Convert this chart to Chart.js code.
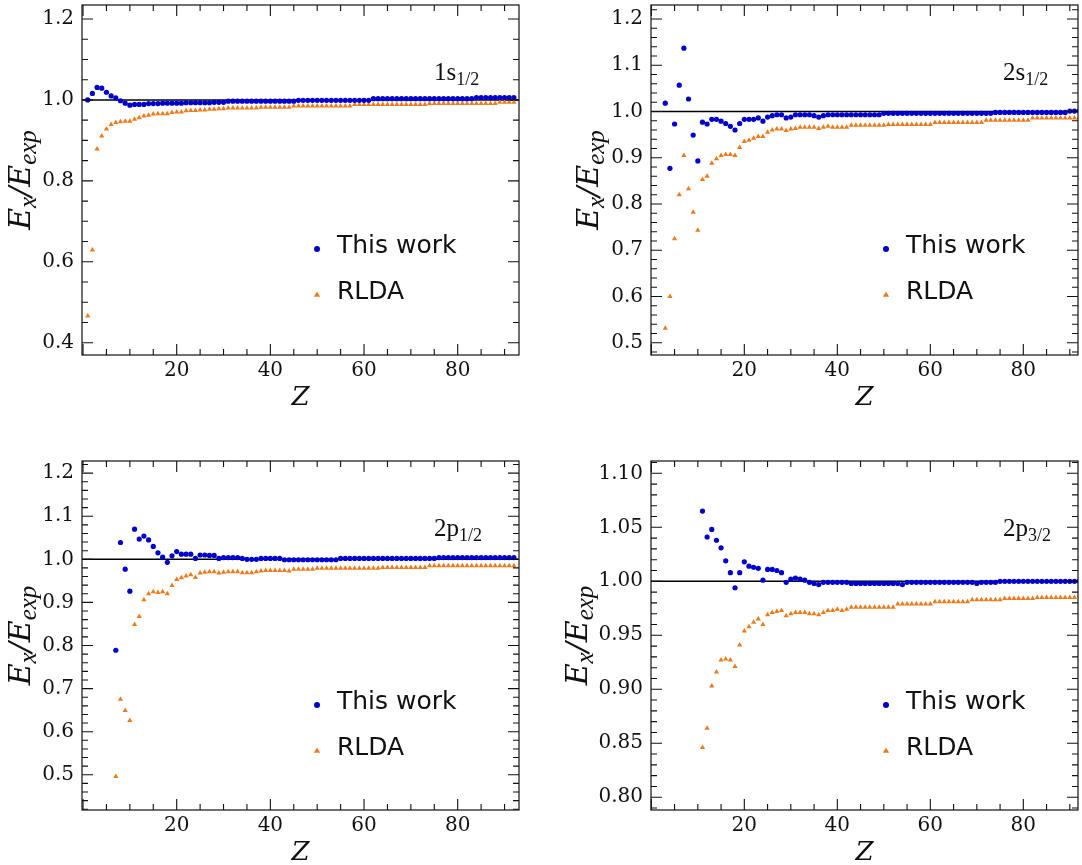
<!DOCTYPE html>
<html>
<head>
<meta charset="utf-8">
<script src="https://cdn.jsdelivr.net/npm/chart.js@4.4.1/dist/chart.umd.min.js"></script>
<style>
  html, body { margin: 0; padding: 0; background: #fff; overflow: hidden; }
  body { width: 1082px; height: 865px; position: relative; }
  canvas { position: absolute; }
</style>
</head>
<body>
<canvas id="panel1s" width="541" height="432" style="left:0;top:0"></canvas>
<canvas id="panel2s" width="522" height="432" style="left:560px;top:0"></canvas>
<canvas id="panel2p1" width="541" height="425" style="left:0;top:440px"></canvas>
<canvas id="panel2p3" width="522" height="425" style="left:560px;top:440px"></canvas>
<script>
// first atomic number plotted for each level (all run up to Z = 92)
const zFirst1s = 1;
const zFirst2s = 3;
const zFirst2p1 = 7;
const zFirst2p3 = 11;
const zLast = 92;

// E_x / E_exp, 1s_1/2
const work1s = [
  1.000, 1.016, 1.031, 1.029, 1.019, 1.010, 1.005, 0.998, 0.992, 0.987,
  0.989, 0.989, 0.989, 0.991, 0.991, 0.991, 0.992, 0.992, 0.992, 0.992,
  0.992, 0.993, 0.993, 0.993, 0.993, 0.993, 0.993, 0.994, 0.994, 0.994,
  0.997, 0.997, 0.997, 0.997, 0.997, 0.997, 0.997, 0.997, 0.997, 0.997,
  0.997, 0.997, 0.997, 0.997, 0.997, 0.999, 0.999, 0.999, 0.999, 0.999,
  0.999, 0.999, 0.999, 0.999, 0.999, 0.999, 0.999, 0.999, 0.999, 0.999,
  0.999, 1.003, 1.003, 1.003, 1.003, 1.003, 1.003, 1.003, 1.003, 1.003,
  1.003, 1.003, 1.003, 1.003, 1.003, 1.003, 1.003, 1.003, 1.003, 1.003,
  1.003, 1.003, 1.003, 1.006, 1.006, 1.006, 1.006, 1.006, 1.006, 1.006,
  1.006, 1.006
];
const rlda1s = [
  0.466, 0.629, 0.879, 0.911, 0.928, 0.939, 0.944, 0.946, 0.947, 0.947,
  0.952, 0.956, 0.960, 0.962, 0.965, 0.966, 0.966, 0.966, 0.969, 0.970,
  0.970, 0.973, 0.974, 0.974, 0.975, 0.975, 0.977, 0.977, 0.978, 0.978,
  0.980, 0.980, 0.980, 0.980, 0.980, 0.980, 0.980, 0.982, 0.982, 0.982,
  0.982, 0.982, 0.982, 0.982, 0.985, 0.985, 0.985, 0.985, 0.985, 0.985,
  0.985, 0.985, 0.985, 0.985, 0.985, 0.985, 0.985, 0.989, 0.989, 0.989,
  0.989, 0.989, 0.989, 0.989, 0.989, 0.989, 0.989, 0.989, 0.989, 0.989,
  0.989, 0.989, 0.989, 0.991, 0.991, 0.991, 0.991, 0.991, 0.991, 0.991,
  0.991, 0.991, 0.991, 0.991, 0.991, 0.991, 0.991, 0.991, 0.994, 0.994,
  0.994, 0.994
];

// 2s_1/2
const work2s = [
  1.018, 0.877, 0.973, 1.057, 1.137, 1.027, 0.949, 0.893, 0.977, 0.973,
  0.983, 0.983, 0.979, 0.974, 0.968, 0.960, 0.974, 0.983, 0.983, 0.983,
  0.986, 0.979, 0.988, 0.991, 0.993, 0.993, 0.986, 0.988, 0.993, 0.993,
  0.993, 0.993, 0.991, 0.988, 0.991, 0.993, 0.993, 0.993, 0.993, 0.993,
  0.993, 0.993, 0.993, 0.993, 0.993, 0.993, 0.993, 0.996, 0.996, 0.996,
  0.996, 0.996, 0.996, 0.996, 0.996, 0.996, 0.996, 0.996, 0.996, 0.996,
  0.996, 0.996, 0.996, 0.996, 0.996, 0.996, 0.996, 0.996, 0.996, 0.996,
  0.996, 0.998, 0.998, 0.998, 0.998, 0.998, 0.998, 0.998, 0.998, 0.998,
  0.998, 0.998, 0.998, 0.998, 0.998, 0.998, 0.998, 1.001, 1.001, 1.001
];
const rlda2s = [
  0.531, 0.600, 0.725, 0.820, 0.905, 0.833, 0.782, 0.743, 0.853, 0.860,
  0.888, 0.898, 0.905, 0.907, 0.907, 0.905, 0.922, 0.935, 0.938, 0.942,
  0.946, 0.946, 0.955, 0.960, 0.962, 0.962, 0.959, 0.962, 0.963, 0.966,
  0.966, 0.966, 0.966, 0.963, 0.966, 0.968, 0.966, 0.966, 0.966, 0.966,
  0.970, 0.970, 0.970, 0.970, 0.970, 0.970, 0.970, 0.970, 0.972, 0.972,
  0.972, 0.972, 0.972, 0.972, 0.972, 0.972, 0.972, 0.972, 0.976, 0.976,
  0.976, 0.976, 0.976, 0.976, 0.976, 0.976, 0.976, 0.976, 0.976, 0.981,
  0.981, 0.981, 0.981, 0.981, 0.981, 0.981, 0.981, 0.981, 0.981, 0.986,
  0.986, 0.986, 0.986, 0.986, 0.986, 0.986, 0.986, 0.986, 0.986, 0.986
];

// 2p_1/2
const work2p1 = [
  0.789, 1.039, 0.977, 0.926, 1.070, 1.047, 1.054, 1.045, 1.030, 1.015,
  1.005, 0.993, 1.008, 1.018, 1.012, 1.012, 1.012, 1.002, 1.010, 1.010,
  1.009, 1.009, 1.002, 1.004, 1.004, 1.004, 1.004, 1.002, 1.000, 1.000,
  1.000, 1.002, 1.002, 1.002, 1.002, 1.002, 0.999, 0.999, 0.999, 0.999,
  0.999, 0.999, 0.999, 0.999, 0.999, 0.999, 0.999, 0.999, 1.002, 1.002,
  1.002, 1.002, 1.002, 1.002, 1.002, 1.002, 1.002, 1.002, 1.002, 1.002,
  1.002, 1.002, 1.002, 1.002, 1.002, 1.002, 1.002, 1.002, 1.002, 1.004,
  1.004, 1.004, 1.004, 1.004, 1.004, 1.004, 1.004, 1.004, 1.004, 1.004,
  1.004, 1.004, 1.004, 1.004, 1.004, 1.004
];
const rlda2p1 = [
  0.496, 0.675, 0.649, 0.626, 0.849, 0.867, 0.906, 0.920, 0.925, 0.923,
  0.925, 0.920, 0.939, 0.953, 0.957, 0.961, 0.964, 0.958, 0.968, 0.970,
  0.971, 0.971, 0.968, 0.970, 0.971, 0.971, 0.971, 0.969, 0.969, 0.969,
  0.971, 0.973, 0.974, 0.974, 0.974, 0.974, 0.974, 0.973, 0.977, 0.977,
  0.977, 0.977, 0.977, 0.979, 0.979, 0.979, 0.979, 0.979, 0.979, 0.979,
  0.979, 0.979, 0.979, 0.979, 0.979, 0.979, 0.979, 0.981, 0.981, 0.981,
  0.981, 0.981, 0.981, 0.981, 0.981, 0.981, 0.981, 0.985, 0.985, 0.985,
  0.985, 0.985, 0.985, 0.985, 0.985, 0.985, 0.985, 0.985, 0.985, 0.985,
  0.985, 0.985, 0.985, 0.985, 0.985, 0.985
];

// 2p_3/2
const work2p3 = [
  1.065, 1.041, 1.048, 1.038, 1.031, 1.019, 1.008, 0.994, 1.008, 1.018,
  1.014, 1.013, 1.012, 1.001, 1.011, 1.011, 1.010, 1.008, 0.999, 1.002,
  1.003, 1.002, 1.001, 0.999, 0.998, 0.997, 0.999, 0.999, 0.999, 0.999,
  0.999, 0.999, 0.998, 0.998, 0.998, 0.998, 0.998, 0.998, 0.998, 0.998,
  0.998, 0.998, 0.998, 0.997, 0.999, 0.999, 0.999, 0.999, 0.999, 0.999,
  0.999, 0.999, 0.999, 0.999, 0.999, 0.999, 0.999, 0.999, 0.999, 0.998,
  0.999, 0.999, 0.999, 0.999, 1.000, 1.000, 1.000, 1.000, 1.000, 1.000,
  1.000, 1.000, 1.000, 1.000, 1.000, 1.000, 1.000, 1.000, 1.000, 1.000,
  1.000, 1.000
];
const rlda2p3 = [
  0.846, 0.864, 0.903, 0.916, 0.927, 0.928, 0.927, 0.921, 0.941, 0.954,
  0.958, 0.962, 0.965, 0.960, 0.969, 0.971, 0.972, 0.973, 0.968, 0.970,
  0.971, 0.971, 0.971, 0.970, 0.970, 0.969, 0.971, 0.973, 0.973, 0.974,
  0.973, 0.974, 0.976, 0.976, 0.976, 0.976, 0.976, 0.976, 0.976, 0.976,
  0.976, 0.976, 0.979, 0.979, 0.979, 0.979, 0.979, 0.979, 0.979, 0.979,
  0.981, 0.981, 0.981, 0.981, 0.981, 0.981, 0.981, 0.981, 0.983, 0.983,
  0.983, 0.983, 0.983, 0.983, 0.983, 0.984, 0.984, 0.984, 0.984, 0.984,
  0.984, 0.984, 0.985, 0.985, 0.985, 0.985, 0.985, 0.985, 0.985, 0.985,
  0.985, 0.987
];

// tick labels
const zTicks = [20, 40, 60, 80];
const zTickLabels = ['20', '40', '60', '80'];
const yTicks1s = [0.4, 0.6, 0.8, 1.0, 1.2];
const yLabels1s = ['0.4', '0.6', '0.8', '1.0', '1.2'];
const yTicks2s = [0.5, 0.6, 0.7, 0.8, 0.9, 1.0, 1.1, 1.2];
const yLabels2s = ['0.5', '0.6', '0.7', '0.8', '0.9', '1.0', '1.1', '1.2'];
const yTicks2p3 = [0.80, 0.85, 0.90, 0.95, 1.00, 1.05, 1.10];
const yLabels2p3 = ['0.80', '0.85', '0.90', '0.95', '1.00', '1.05', '1.10'];

const BLUE = '#0000cd';
const ORANGE = '#f07a1a';
const TICK_FONT = { family: '"DejaVu Serif", serif', size: 20 };

function zRange(first, last) {
  const out = [];
  for (let z = first; z <= last; z++) out.push(z);
  return out;
}

function toPoints(zs, vals) {
  return vals.map((v, i) => ({ x: zs[i], y: v }));
}

function drawRich(ctx, parts, x, y, align) {
  let w = 0;
  parts.forEach((p) => { ctx.font = p.font; p.w = ctx.measureText(p.text).width; w += p.w; });
  let cx = align === 'center' ? x - w / 2 : x;
  parts.forEach((p) => {
    ctx.font = p.font;
    ctx.fillText(p.text, cx, y + (p.dy || 0));
    cx += p.w;
  });
}

function eachTick(min, max, step, major, fn) {
  for (let k = Math.ceil(min / step - 1e-9); k * step <= max + 1e-9; k++) {
    const v = k * step;
    const r = v / major;
    fn(v, Math.abs(r - Math.round(r)) < 1e-6);
  }
}

// frame, inward ticks on all sides, reference line, legend, level label, axis titles
const panelDecor = {
  id: 'panelDecor',
  beforeDatasetsDraw(chart, args, o) {
    const { ctx, chartArea: a } = chart;
    const py = chart.scales.y.getPixelForValue(o.refValue);
    ctx.save();
    ctx.strokeStyle = '#000';
    ctx.lineWidth = 1.5;
    ctx.beginPath();
    ctx.moveTo(a.left, py);
    ctx.lineTo(a.right, py);
    ctx.stroke();
    ctx.restore();
  },
  afterDraw(chart, args, o) {
    const { ctx, chartArea: a, scales: { x, y } } = chart;
    ctx.save();
    ctx.strokeStyle = '#111';
    ctx.lineWidth = 1.2;
    ctx.strokeRect(a.left, a.top, a.right - a.left, a.bottom - a.top);

    ctx.lineWidth = 1.1;
    ctx.beginPath();
    eachTick(x.min, x.max, o.xMinor, o.xMajor, (v, isMajor) => {
      const px = x.getPixelForValue(v);
      const len = isMajor ? 11 : 6;
      ctx.moveTo(px, a.bottom); ctx.lineTo(px, a.bottom - len);
      ctx.moveTo(px, a.top); ctx.lineTo(px, a.top + len);
    });
    eachTick(y.min, y.max, o.yMinor, o.yMajor, (v, isMajor) => {
      const py = y.getPixelForValue(v);
      const len = isMajor ? 11 : 6;
      ctx.moveTo(a.left, py); ctx.lineTo(a.left + len, py);
      ctx.moveTo(a.right, py); ctx.lineTo(a.right - len, py);
    });
    ctx.stroke();

    // legend
    ctx.fillStyle = BLUE;
    ctx.beginPath();
    ctx.arc(a.left + 235, a.top + 244, 3, 0, Math.PI * 2);
    ctx.fill();
    ctx.fillStyle = ORANGE;
    const tx = a.left + 235, ty = a.top + 290, tr = 3.6;
    ctx.beginPath();
    ctx.moveTo(tx, ty - tr);
    ctx.lineTo(tx + tr * 0.866, ty + tr * 0.5);
    ctx.lineTo(tx - tr * 0.866, ty + tr * 0.5);
    ctx.closePath();
    ctx.fill();
    ctx.fillStyle = '#111';
    ctx.textBaseline = 'alphabetic';
    ctx.textAlign = 'left';
    ctx.font = '25px "DejaVu Sans", sans-serif';
    ctx.fillText('This work', a.left + 255, a.top + 248);
    ctx.fillText('RLDA', a.left + 255, a.top + 294);

    // level label
    drawRich(ctx, [
      { text: o.level, font: '25px "Liberation Serif", serif' },
      { text: o.levelSub, font: '18px "Liberation Serif", serif', dy: 4.5 },
    ], a.left + 352, a.top + 75, 'left');

    // x title
    drawRich(ctx, [
      { text: 'Z', font: 'italic 26px "DejaVu Serif", serif' },
    ], (a.left + a.right) / 2, a.bottom + 50, 'center');

    // y title
    ctx.translate(a.left - o.yTitleGap, (a.top + a.bottom) / 2);
    ctx.rotate(-Math.PI / 2);
    const big = 'italic 30px "DejaVu Serif", serif';
    const sub = 'italic 25px "Liberation Serif", serif';
    drawRich(ctx, [
      { text: 'E', font: big },
      { text: 'x', font: sub, dy: 6 },
      { text: '/', font: big },
      { text: 'E', font: big },
      { text: 'exp', font: sub, dy: 6 },
    ], 0, 0, 'center');
    ctx.restore();
  },
};

function makePanel(id, p) {
  return new Chart(document.getElementById(id), {
    type: 'scatter',
    data: {
      datasets: [
        {
          label: 'This work',
          data: toPoints(p.z, p.work),
          pointStyle: 'circle',
          pointRadius: 2.6,
          backgroundColor: BLUE,
          borderWidth: 0,
        },
        {
          label: 'RLDA',
          data: toPoints(p.z, p.rlda),
          pointStyle: 'triangle',
          pointRadius: 3,
          backgroundColor: ORANGE,
          borderWidth: 0,
        },
      ],
    },
    options: {
      responsive: false,
      animation: false,
      events: [],
      layout: { padding: { top: p.padTop, right: p.padRight, left: 0, bottom: 0 } },
      plugins: {
        legend: { display: false },
        tooltip: { enabled: false },
        panelDecor: {
          refValue: 1.0,
          xMajor: 20, xMinor: 5,
          yMajor: p.yMajor, yMinor: p.yMinor,
          level: p.level, levelSub: p.levelSub,
          yTitleGap: p.yTitleGap,
        },
      },
      scales: {
        x: {
          type: 'linear',
          min: p.xMin,
          max: p.xMax,
          grid: { display: false, drawTicks: false },
          border: { display: false },
          afterFit: (s) => {
            s.height = p.xAxisHeight;
            s.paddingLeft = 0;
            s.paddingRight = 0;
          },
          afterBuildTicks: (s) => { s.ticks = zTicks.map((v) => ({ value: v })); },
          ticks: {
            callback: (v, i) => zTickLabels[i],
            font: TICK_FONT,
            color: '#111',
            padding: 4,
            maxRotation: 0,
            autoSkip: false,
          },
        },
        y: {
          type: 'linear',
          min: p.yMin,
          max: p.yMax,
          grid: { display: false, drawTicks: false },
          border: { display: false },
          afterFit: (s) => {
            s.width = p.yAxisWidth;
            s.paddingTop = 0;
            s.paddingBottom = 0;
          },
          afterBuildTicks: (s) => { s.ticks = p.yTicks.map((v) => ({ value: v })); },
          ticks: {
            callback: (v, i) => p.yLabels[i],
            font: TICK_FONT,
            color: '#111',
            padding: 8,
            autoSkip: false,
          },
        },
      },
    },
    plugins: [panelDecor],
  });
}

makePanel('panel1s', {
  z: zRange(zFirst1s, zLast), work: work1s, rlda: rlda1s,
  level: '1s', levelSub: '1/2',
  xMin: -0.22, xMax: 93.09, yMin: 0.3696, yMax: 1.2346,
  yTicks: yTicks1s, yLabels: yLabels1s, yMajor: 0.2, yMinor: 0.05,
  padTop: 5, padRight: 22, yAxisWidth: 82, xAxisHeight: 77, yTitleGap: 52,
});

makePanel('panel2s', {
  z: zRange(zFirst2s, zLast), work: work2s, rlda: rlda2s,
  level: '2s', levelSub: '1/2',
  xMin: -0.07, xMax: 91.76, yMin: 0.4734, yMax: 1.2303,
  yTicks: yTicks2s, yLabels: yLabels2s, yMajor: 0.1, yMinor: 0.02,
  padTop: 5, padRight: 1, yAxisWidth: 91, xAxisHeight: 77, yTitleGap: 53,
});

makePanel('panel2p1', {
  z: zRange(zFirst2p1, zLast), work: work2p1, rlda: rlda2p1,
  level: '2p', levelSub: '1/2',
  xMin: -0.22, xMax: 93.09, yMin: 0.4183, yMax: 1.2281,
  yTicks: yTicks2s, yLabels: yLabels2s, yMajor: 0.1, yMinor: 0.02,
  padTop: 21, padRight: 22, yAxisWidth: 82, xAxisHeight: 55, yTitleGap: 52,
});

makePanel('panel2p3', {
  z: zRange(zFirst2p3, zLast), work: work2p3, rlda: rlda2p3,
  level: '2p', levelSub: '3/2',
  xMin: -0.07, xMax: 91.76, yMin: 0.7882, yMax: 1.1114,
  yTicks: yTicks2p3, yLabels: yLabels2p3, yMajor: 0.05, yMinor: 0.01,
  padTop: 21, padRight: 1, yAxisWidth: 91, xAxisHeight: 55, yTitleGap: 64,
});
</script>
</body>
</html>
